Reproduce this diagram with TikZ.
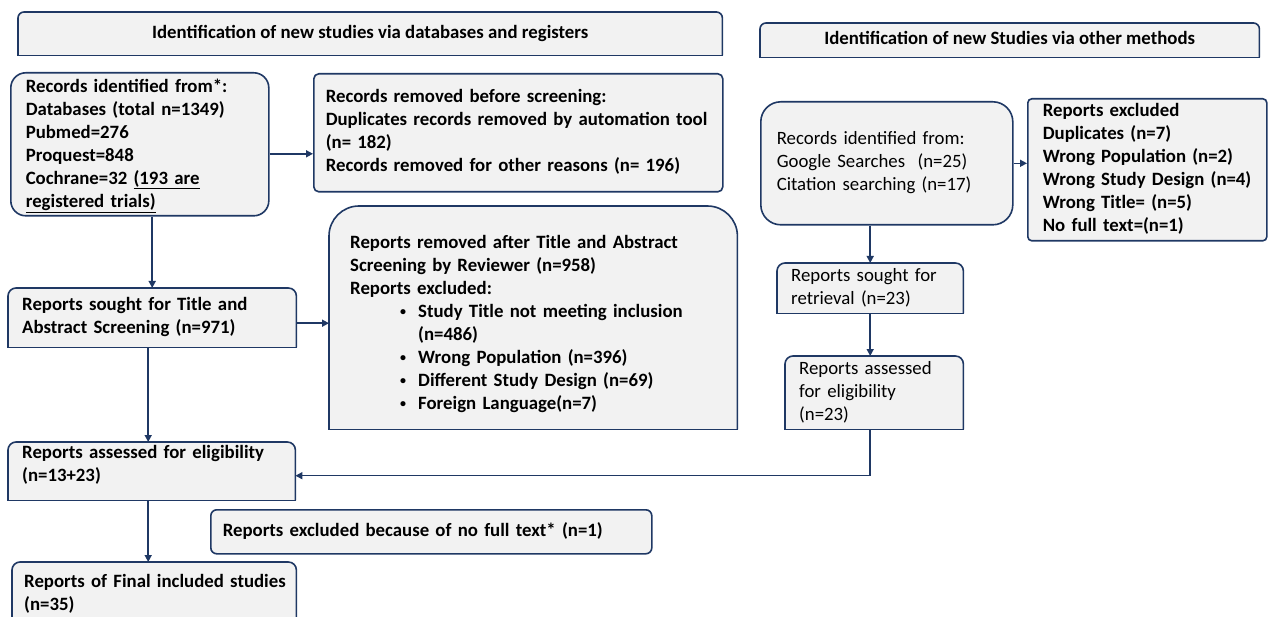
\documentclass[tikz,border=0pt]{standalone}
\usepackage{fontspec}
\setmainfont{Carlito}
\usetikzlibrary{arrows.meta,backgrounds}
\definecolor{navy}{HTML}{1F3864}
\definecolor{boxfill}{HTML}{F2F2F2}
\tikzset{
  txt/.style={anchor=north west, inner ysep=0pt, align=left, font=\fontsize{18.8}{23}\selectfont},
  bftxt/.style={txt, font=\bfseries\fontsize{18.8}{23}\selectfont},
  rbox/.style={draw=navy, fill=boxfill, line width=1.6pt},
  arr/.style={draw=navy, line width=1.5pt, -{Triangle[length=7pt,width=7pt]}},
}
\newcommand\topbox[2]{%
  \path[fill=boxfill, draw=navy, line width=1.6pt, rounded corners=#2]
    (#1.south east) -- (#1.north east) -- (#1.north west) -- (#1.south west);
  \draw[navy, line width=1.6pt, line cap=rect] (#1.south west) -- (#1.south east);}
\newcommand\bul{\hspace*{50pt}\makebox[18pt][l]{\raisebox{1.5pt}{\fontsize{12}{12}\selectfont •}}}
\begin{document}
\begin{tikzpicture}[x=1pt,y=-1pt]
\useasboundingbox (0,0) rectangle (1268,617);
\clip (0,0) rectangle (1268,617);

% ---- titles
\node[bftxt, inner xsep=0pt, minimum width=704pt, minimum height=43pt, align=center] (titleL) at (18,12)
  {\strut Identification of new studies via databases and registers};
\node[bftxt, inner xsep=0pt, minimum width=499pt, minimum height=34pt, align=center] (titleR) at (760,23)
  {\strut Identification of new Studies via other methods};

% ---- left column
\node[bftxt, rbox, rounded corners=15pt, inner xsep=15pt, text width=228pt, minimum height=143pt] (recL) at (10,72)
  {\rule{0pt}{18pt}Records identified from*:\\
   Databases (total n=1349)\\
   Pubmed=276\\
   Proquest=848\\
   Cochrane=32 \underline{(193 are}\\
   \underline{registered trials)}\strut};

\node[bftxt, rbox, rounded corners=5pt, inner xsep=12pt, text width=385pt, minimum height=118pt] (removed) at (313,73)
  {\strut Records removed before screening:\\
   \mbox{Duplicates records removed by automation tool}\\
   (n= 182)\\
   Records removed for other reasons (n= 196)\strut};

\node[bftxt, inner xsep=21pt, text width=366pt, minimum height=223pt] (afterTA) at (329,206)
  {\rule{0pt}{28.9pt}Reports removed after Title and Abstract\\
   Screening by Reviewer (n=958)\\
   Reports excluded:\\
   \bul Study Title not meeting inclusion\\
   \hspace*{68pt}(n=486)\\
   \bul Wrong Population (n=396)\\
   \bul Different Study Design (n=69)\\
   \bul Foreign Language(n=7)\strut};

\node[bftxt, inner xsep=14pt, text width=260pt, minimum height=59pt] (soughtTA) at (8,288)
  {\strut Reports sought for Title and\\
   Abstract Screening (n=971)\strut};

\node[bftxt, inner xsep=14pt, text width=259pt, minimum height=58pt] (assessL) at (8,442)
  {\strut \mbox{Reports assessed for eligibility}\\
   (n=13+23)\rule[-18.9pt]{0pt}{18.9pt}};

\node[bftxt, rbox, rounded corners=6pt, inner xsep=12pt, text width=417pt, minimum height=44pt] (nofull) at (210,509)
  {\strut Reports excluded because of no full text* (n=1)};

\node[bftxt, inner xsep=12pt, text width=260pt, minimum height=64pt] (final) at (12,562)
  {\strut \mbox{Reports of Final included studies}\\
   (n=35)\strut};

% ---- right column
\node[txt, rbox, rounded corners=20pt, inner xsep=16pt, text width=220pt, minimum height=123pt] (recR) at (760,101)
  {\strut Records identified from:\\
   Google Searches\ \ (n=25)\\
   Citation searching (n=17)\strut};

\node[bftxt, rbox, rounded corners=4pt, inner xsep=15pt, text width=209pt, minimum height=142pt] (exclR) at (1027,98)
  {\strut Reports excluded\\
   Duplicates (n=7)\\
   Wrong Population (n=2)\\
   \mbox{Wrong Study Design (n=4)}\\
   Wrong Title= (n=5)\\
   No full text=(n=1)\strut};

\node[txt, inner xsep=14pt, text width=158pt, minimum height=50pt] (soughtR) at (777,263)
  {\strut Reports sought for\\
   retrieval (n=23)\strut};

\node[txt, inner xsep=14pt, text width=150pt, minimum height=73pt] (assessR) at (785,356)
  {\strut Reports assessed\\
   for eligibility\\
   (n=23)\strut};

% ---- boxes with rounded top corners only
\begin{scope}[on background layer]
  \fill[white] (0,0) rectangle (1268,617);
  \topbox{titleL}{6pt}
  \topbox{titleR}{6pt}
  \topbox{afterTA}{30pt}
  \topbox{soughtTA}{8pt}
  \topbox{assessL}{8pt}
  \topbox{final}{8pt}
  \topbox{soughtR}{8pt}
  \topbox{assessR}{8pt}
\end{scope}

% ---- connectors
\draw[arr] ([yshift=-9.5pt]recL.east) -- ([yshift=-9.5pt]recL.east -| removed.west);
\draw[arr] (recL.south -| soughtTA.north) -- (soughtTA.north);
\draw[arr] ([yshift=-5.5pt]soughtTA.east) -- ([yshift=-5.5pt]soughtTA.east -| afterTA.west);
\draw[arr] ([xshift=-4pt]soughtTA.south) -- ([xshift=-4pt]soughtTA.south |- assessL.north);
\draw[arr] ([xshift=-3.5pt]assessL.south) -- ([xshift=-3.5pt]assessL.south |- final.north);
\draw[arr] (recR.east) -- (recR.east -| exclR.west);
\draw[arr] (soughtR.north |- recR.south) -- (soughtR.north);
\draw[arr] (soughtR.south) -- (soughtR.south |- assessR.north);
\draw[arr] (assessR.south -| soughtR.south) |- ([yshift=-4.5pt]assessL.east);
\end{tikzpicture}
\end{document}
